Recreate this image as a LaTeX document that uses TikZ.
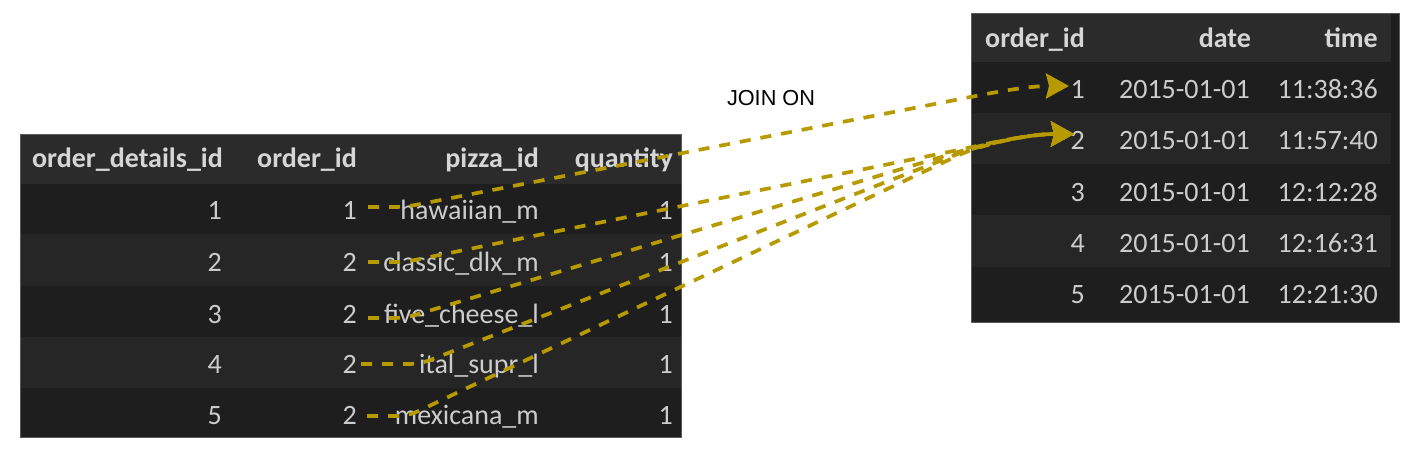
\documentclass[tikz,border=0pt]{standalone}
\usepackage{fontspec}
\setmainfont{Carlito}
\newfontfamily\joinfont{Liberation Sans}
\usetikzlibrary{arrows.meta}
\definecolor{hdr}{RGB}{43,43,43}
\definecolor{rowd}{RGB}{30,30,30}
\definecolor{rowl}{RGB}{38,38,38}
\definecolor{txt}{RGB}{204,204,204}
\definecolor{htxt}{RGB}{214,214,214}
\definecolor{gold}{RGB}{183,153,0}
\definecolor{edgec}{RGB}{90,90,90}
\begin{document}
\begin{tikzpicture}[x=1pt,y=-1pt,
  cell/.style={inner sep=0pt, anchor=base east, text=txt, font=\fontsize{28}{30}\selectfont},
  head/.style={cell, text=htxt, font=\fontsize{28}{30}\selectfont\bfseries},
  link/.style={draw=gold, line width=3.7pt, dash pattern=on 11pt off 10pt,
    -{Stealth[length=23pt,width=25pt,inset=3pt]}}]
\useasboundingbox (0,0) rectangle (1407,451);
\fill[white] (0,0) rectangle (1407,451);

% ---------- left table ----------
\fill[rowd] (20,134) rectangle (681,437);
\fill[hdr] (20,134) rectangle (681,184);
\fill[rowl] (20,234) rectangle (681,286);
\fill[rowl] (20,337) rectangle (681,388);
\draw[edgec, line width=0.8pt] (20,134) rectangle (681,437);

\node[head] (lh1) at (223,167) {order\_details\_id};
\node[head] (lh2) at (357,167) {order\_id};
\node[head] (lh3) at (539,167) {pizza\_id};
\node[head] (lh4) at (673,167) {quantity};

\node[cell] (la1) at (222,219) {1};
\node[cell] (lb1) at (357,219) {1};
\node[cell] (lc1) at (539,219) {hawaiian\_m};
\node[cell] (ld1) at (673,219) {1};

\node[cell] (la2) at (222,271) {2};
\node[cell] (lb2) at (357,271) {2};
\node[cell] (lc2) at (539,271) {classic\_dlx\_m};
\node[cell] (ld2) at (673,271) {1};

\node[cell] (la3) at (222,323) {3};
\node[cell] (lb3) at (357,323) {2};
\node[cell] (lc3) at (539,323) {five\_cheese\_l};
\node[cell] (ld3) at (673,323) {1};

\node[cell] (la4) at (222,373) {4};
\node[cell] (lb4) at (357,373) {2};
\node[cell] (lc4) at (539,373) {ital\_supr\_l};
\node[cell] (ld4) at (673,373) {1};

\node[cell] (la5) at (222,424) {5};
\node[cell] (lb5) at (357,424) {2};
\node[cell] (lc5) at (539,424) {mexicana\_m};
\node[cell] (ld5) at (673,424) {1};

% ---------- right table ----------
\fill[rowd] (971,13) rectangle (1399,322);
\fill[hdr] (971,13) rectangle (1391,62);
\fill[rowl] (971,113) rectangle (1391,164);
\fill[rowl] (971,215) rectangle (1391,267);
\draw[edgec, line width=0.8pt] (971,13) rectangle (1399,322);

\node[head] (rh1) at (1085,47) {order\_id};
\node[head] (rh2) at (1251,47) {date};
\node[head] (rh3) at (1378,47) {time};

\node[cell] (ra1) at (1085,98) {1};
\node[cell] (rb1) at (1250,98) {2015-01-01};
\node[cell] (rc1) at (1378,98) {11:38:36};

\node[cell] (ra2) at (1085,149) {2};
\node[cell] (rb2) at (1250,149) {2015-01-01};
\node[cell] (rc2) at (1378,149) {11:57:40};

\node[cell] (ra3) at (1085,201) {3};
\node[cell] (rb3) at (1250,201) {2015-01-01};
\node[cell] (rc3) at (1378,201) {12:12:28};

\node[cell] (ra4) at (1085,252) {4};
\node[cell] (rb4) at (1250,252) {2015-01-01};
\node[cell] (rc4) at (1378,252) {12:16:31};

\node[cell] (ra5) at (1085,303) {5};
\node[cell] (rb5) at (1250,303) {2015-01-01};
\node[cell] (rc5) at (1378,303) {12:21:30};

% ---------- label ----------
\node[inner sep=0pt, text=black, font=\joinfont\fontsize{21.7}{24}\selectfont] (join) at (771,98) {JOIN ON};

% ---------- connector points ----------
\coordinate (s1) at (368,207); \coordinate (b1) at (405,207); \coordinate (m1) at (945,102);
\coordinate (s2) at (368,262); \coordinate (b2) at (405,262); \coordinate (m2) at (950,151.7);
\coordinate (s3) at (368,318); \coordinate (b3) at (405,318); \coordinate (m3) at (950,154.4);
\coordinate (s4) at (361,364); \coordinate (b4) at (420,364); \coordinate (m4) at (950,157);
\coordinate (s5) at (367,416); \coordinate (b5) at (408,416); \coordinate (m5) at (950,159.3);
\coordinate (conv) at (978,146);
\coordinate (t1) at (1069,86);
\coordinate (t2) at (1074,134);

% ---------- connectors ----------
\draw[link] (s1) [rounded corners=10pt] -- (b1) -- (m1) [sharp corners] .. controls (990,93.2) and (1025,86) .. (t1);
\draw[link] (s2) [rounded corners=10pt] -- (b2) -- (m2) [sharp corners] .. controls (conv) and (1025,134) .. (t2);
\draw[link] (s3) [rounded corners=10pt] -- (b3) -- (m3) [sharp corners] .. controls (conv) and (1025,134) .. (t2);
\draw[link] (s4) [rounded corners=10pt] -- (b4) -- (m4) [sharp corners] .. controls (conv) and (1025,134) .. (t2);
\draw[link] (s5) [rounded corners=10pt] -- (b5) -- (m5) [sharp corners] .. controls (conv) and (1025,134) .. (t2);
\end{tikzpicture}
\end{document}
